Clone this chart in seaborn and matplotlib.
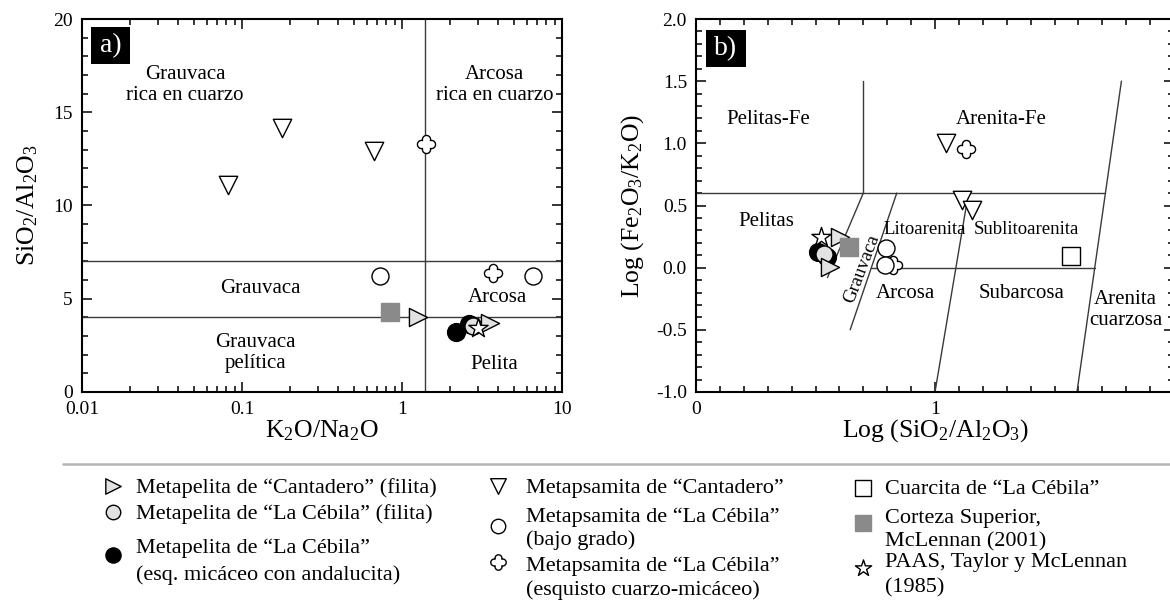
import numpy as np
import pandas as pd
import matplotlib
matplotlib.use("Agg")
import matplotlib.pyplot as plt
import seaborn as sns
from matplotlib.path import Path
from matplotlib.patches import Rectangle
from matplotlib.lines import Line2D
from matplotlib.ticker import MultipleLocator, LogLocator, NullFormatter, FormatStrFormatter

# ---- panel a) K2O/Na2O vs SiO2/Al2O3 ----
a_mp_cant_x = [1.25, 3.55]
a_mp_cant_y = [4.0, 3.72]
a_mp_ceb_x = [2.78]
a_mp_ceb_y = [3.55]
a_mp_and_x = [2.17, 2.62]
a_mp_and_y = [3.23, 3.62]
a_ms_cant_x = [0.082, 0.178, 0.664]
a_ms_cant_y = [11.08, 14.18, 12.93]
a_ms_bajo_x = [0.729, 6.62]
a_ms_bajo_y = [6.22, 6.22]
a_ms_esq_x = [1.42, 3.69]
a_ms_esq_y = [13.32, 6.36]
a_corteza_x = [0.841]
a_corteza_y = [4.31]
a_paas_x = [3.0]
a_paas_y = [3.41]

a_vline_x = 1.4
a_hline_y = [7.0, 4.0]

# ---- panel b) Log(SiO2/Al2O3) vs Log(Fe2O3/K2O) ----
b_mp_cant_x = [0.6025, 0.561]
b_mp_cant_y = [0.244, 0.007]
b_mp_ceb_x = [0.536]
b_mp_ceb_y = [0.109]
b_mp_and_x = [0.512, 0.55]
b_mp_and_y = [0.13, 0.085]
b_ms_cant_x = [1.046, 1.113, 1.156]
b_ms_cant_y = [1.0, 0.547, 0.461]
b_ms_bajo_x = [0.795, 0.791]
b_ms_bajo_y = [0.155, 0.021]
b_ms_esq_x = [1.129, 0.826]
b_ms_esq_y = [0.951, 0.02]
b_cuarcita_x = [1.570]
b_cuarcita_y = [0.095]
b_corteza_x = [0.640]
b_corteza_y = [0.168]
b_paas_x = [0.522]
b_paas_y = [0.244]

# field boundaries (Herron 1988)
b_bound_x = [[0, 1.713], [0.7, 0.7], [0.7, 0.55], [0.84, 0.645],
             [0.734, 1.668], [1.14, 1.0], [1.78, 1.594]]
b_bound_y = [[0.6, 0.6], [0.6, 1.5], [0.6, -0.08], [0.6, -0.5],
             [0.0, 0.0], [0.6, -1.0], [1.5, -1.0]]

labels = {
    "mp_cant": ["Metapelita de “Cantadero” (filita)"],
    "mp_ceb": ["Metapelita de “La Cébila” (filita)"],
    "mp_and": ["Metapelita de “La Cébila”", "(esq. micáceo con andalucita)"],
    "ms_cant": ["Metapsamita de “Cantadero”"],
    "ms_bajo": ["Metapsamita de “La Cébila”", "(bajo grado)"],
    "ms_esq": ["Metapsamita de “La Cébila”", "(esquisto cuarzo-micáceo)"],
    "cuarcita": ["Cuarcita de “La Cébila”"],
    "corteza": ["Corteza Superior,", "McLennan (2001)"],
    "paas": ["PAAS, Taylor y McLennan", "(1985)"],
}

frames = []
def add(panel, group, xs, ys):
    frames.append(pd.DataFrame({"panel": panel, "group": group, "x": xs, "y": ys}))

add("a", "mp_cant", a_mp_cant_x, a_mp_cant_y)
add("a", "mp_ceb", a_mp_ceb_x, a_mp_ceb_y)
add("a", "mp_and", a_mp_and_x, a_mp_and_y)
add("a", "ms_cant", a_ms_cant_x, a_ms_cant_y)
add("a", "ms_bajo", a_ms_bajo_x, a_ms_bajo_y)
add("a", "ms_esq", a_ms_esq_x, a_ms_esq_y)
add("a", "corteza", a_corteza_x, a_corteza_y)
add("a", "paas", a_paas_x, a_paas_y)
add("b", "mp_cant", b_mp_cant_x, b_mp_cant_y)
add("b", "mp_ceb", b_mp_ceb_x, b_mp_ceb_y)
add("b", "mp_and", b_mp_and_x, b_mp_and_y)
add("b", "ms_cant", b_ms_cant_x, b_ms_cant_y)
add("b", "ms_bajo", b_ms_bajo_x, b_ms_bajo_y)
add("b", "ms_esq", b_ms_esq_x, b_ms_esq_y)
add("b", "cuarcita", b_cuarcita_x, b_cuarcita_y)
add("b", "corteza", b_corteza_x, b_corteza_y)
add("b", "paas", b_paas_x, b_paas_y)
df = pd.concat(frames, ignore_index=True)


def quatrefoil():
    # outline of four overlapping round lobes
    t = np.linspace(0, 2 * np.pi, 241)
    d, R = 0.55, 0.45
    r = np.zeros_like(t)
    for phi in np.arange(4) * np.pi / 2:
        s = d * np.sin(t - phi)
        val = d * np.cos(t - phi) + np.sqrt(np.clip(R**2 - s**2, 0, None))
        r = np.maximum(r, np.where(R**2 - s**2 >= 0, val, 0))
    return Path(np.column_stack([r * np.cos(t), r * np.sin(t)]), closed=True)


LG = "#e2e2e2"
styles = {
    "ms_esq": dict(marker=quatrefoil(), color="white", edgecolor="black", s=170),
    "ms_cant": dict(marker="v", color="white", edgecolor="black", s=175),
    "mp_and": dict(marker="o", color="black", edgecolor="black", s=165),
    "mp_ceb": dict(marker="o", color=LG, edgecolor="black", s=150),
    "mp_cant": dict(marker=">", color=LG, edgecolor="black", s=170),
    "ms_bajo": dict(marker="o", color="white", edgecolor="black", s=150),
    "cuarcita": dict(marker="s", color="white", edgecolor="black", s=165),
    "corteza": dict(marker="s", color="#8a8a8a", edgecolor="#8a8a8a", s=185),
    "paas": dict(marker="*", color="white", edgecolor="black", s=210),
}
draw_order = list(styles.keys())

sns.set_theme(style="ticks")
plt.rcParams.update({
    "font.family": ["Liberation Serif", "DejaVu Serif"],
    "mathtext.fontset": "custom",
    "mathtext.rm": "Liberation Serif",
    "mathtext.it": "Liberation Serif:italic",
    "mathtext.bf": "Liberation Serif:bold",
    "axes.unicode_minus": False,
    "axes.edgecolor": "black",
    "xtick.color": "black",
    "ytick.color": "black",
    "text.color": "black",
    "axes.labelcolor": "black",
})

W, H = 1170, 603
fig = plt.figure(figsize=(W / 100, H / 100), dpi=100)
axa = fig.add_axes([82 / W, 1 - 392 / H, (562 - 82) / W, (392 - 19) / H])
axb = fig.add_axes([696 / W, 1 - 392 / H, (1174 - 696) / W, (392 - 19) / H])

handles = {}
for panel, ax in (("a", axa), ("b", axb)):
    for g in draw_order:
        sub = df[(df.panel == panel) & (df.group == g)]
        if sub.empty:
            continue
        sns.scatterplot(data=sub, x="x", y="y", ax=ax, linewidth=1.0,
                        zorder=3, legend=False, **styles[g])
        if panel == "b":
            handles[g] = ax.collections[-1]

# panel a fields
axa.axvline(a_vline_x, color="#3a3a3a", lw=1.0, zorder=1)
for yv in a_hline_y:
    axa.axhline(yv, color="#3a3a3a", lw=1.0, zorder=1)
# panel b fields
for xs, ys in zip(b_bound_x, b_bound_y):
    axb.plot(xs, ys, color="#3a3a3a", lw=1.0, zorder=1)

for ax in (axa, axb):
    for sp in ax.spines.values():
        sp.set_linewidth(1.5)
        sp.set_color("black")
    ax.tick_params(which="both", direction="in", top=True, right=True,
                   width=1.1, labelsize=14, pad=6.5)
    ax.tick_params(which="major", length=7)
    ax.tick_params(which="minor", length=4)

axa.set_xscale("log")
axa.set_xlim(0.01, 10)
axa.set_ylim(0, 20)
axa.set_xticks([0.01, 0.1, 1, 10], ["0.01", "0.1", "1", "10"])
axa.xaxis.set_minor_locator(LogLocator(base=10, subs=np.arange(2, 10)))
axa.xaxis.set_minor_formatter(NullFormatter())
axa.yaxis.set_major_locator(MultipleLocator(5))
axa.yaxis.set_minor_locator(MultipleLocator(1))

axb.set_xlim(0, 2)
axb.set_ylim(-1, 2)
axb.set_xticks([0, 1, 2], ["0", "1", ""])
axb.xaxis.set_minor_locator(MultipleLocator(0.1))
axb.yaxis.set_major_locator(MultipleLocator(0.5))
axb.yaxis.set_major_formatter(FormatStrFormatter("%.1f"))
axb.yaxis.set_minor_locator(MultipleLocator(0.1))

axa.set_xlabel(r"K$_2$O/Na$_2$O", fontsize=18.5)
axa.set_ylabel(r"SiO$_2$/Al$_2$O$_3$", fontsize=18.5)
axb.set_xlabel(r"Log (SiO$_2$/Al$_2$O$_3$)", fontsize=18.5)
axb.set_ylabel(r"Log (Fe$_2$O$_3$/K$_2$O)", fontsize=18.5)
for ax, ylx in ((axa, (28 - 82) / 480), (axb, (633 - 696) / 478)):
    ax.xaxis.label.set_va("center")
    ax.xaxis.set_label_coords(0.5, -(431 - 392) / 373)
    ax.yaxis.label.set_va("center")
    ax.yaxis.label.set_ha("center")
    ax.yaxis.set_label_coords(ylx, 0.5)

# region names
kw = dict(ha="center", va="center", fontsize=15, linespacing=1.15, zorder=2)
axa.text(0.044, 16.44, "Grauvaca\nrica en cuarzo", **kw)
axa.text(3.79, 16.44, "Arcosa\nrica en cuarzo", **kw)
axa.text(0.131, 5.55, "Grauvaca", **kw)
axa.text(0.121, 2.11, "Grauvaca\npelítica", **kw)
axa.text(3.95, 5.09, "Arcosa", **kw)
axa.text(3.79, 1.47, "Pelita", **kw)

axb.text(0.302, 1.19, "Pelitas-Fe", **kw)
axb.text(1.276, 1.19, "Arenita-Fe", **kw)
axb.text(0.294, 0.372, "Pelitas", **kw)
axb.text(0.877, -0.206, "Arcosa", **kw)
axb.text(1.361, -0.206, "Subarcosa", **kw)
axb.text(1.798, -0.338, "Arenita\ncuarzosa", **kw)
kw_s = dict(kw, fontsize=13.5)
axb.text(0.956, 0.305, "Litoarenita", **kw_s)
axb.text(1.381, 0.305, "Sublitoarenita", **kw_s)
axb.text(0.693, -0.006, "Grauvaca", rotation=69, **kw_s)

# panel tags
for ax, tag, x0, w, y0, h in ((axa, "a)", 0.0185, 0.082, 0.879, 0.099),
                              (axb, "b)", 0.0211, 0.083, 0.872, 0.099)):
    ax.add_patch(Rectangle((x0, y0), w, h, transform=ax.transAxes,
                           facecolor="black", edgecolor="none", zorder=4))
    ax.text(x0 + w / 2, y0 + h / 2, tag, transform=ax.transAxes, color="white",
            ha="center", va="center", fontsize=20, zorder=5)

# separator
fig.add_artist(Line2D([63 / W, 1.0], [1 - 464 / H] * 2, transform=fig.transFigure,
                      color="#b4b4b4", lw=1.8))

# legend: marker keys and text lines
legend_layout = [
    # group, marker x, marker y, text x, line ys
    ("mp_cant", 113, 488, 136, [488]),
    ("mp_ceb", 113, 514, 136, [514]),
    ("mp_and", 113, 557, 136, [548, 575]),
    ("ms_cant", 498, 488, 526, [488]),
    ("ms_bajo", 498, 528, 526, [517, 540]),
    ("ms_esq", 498, 565, 526, [566, 590]),
    ("cuarcita", 863, 490, 885, [490]),
    ("corteza", 863, 525, 885, [518, 542]),
    ("paas", 863, 570, 885, [563, 588]),
]
for g, mx, my, tx, ys in legend_layout:
    fig.legend([handles[g]], [""], loc="center", bbox_to_anchor=(mx / W, 1 - my / H),
               frameon=False, handlelength=1.0, handletextpad=0, borderpad=0,
               borderaxespad=0, markerscale=0.85, scatterpoints=1,
               scatteryoffsets=[0.5], fontsize=16)
    for line, ly in zip(labels[g], ys):
        fig.text(tx / W, 1 - ly / H, line, ha="left", va="center", fontsize=16)

fig.savefig("out.png", dpi=100)
